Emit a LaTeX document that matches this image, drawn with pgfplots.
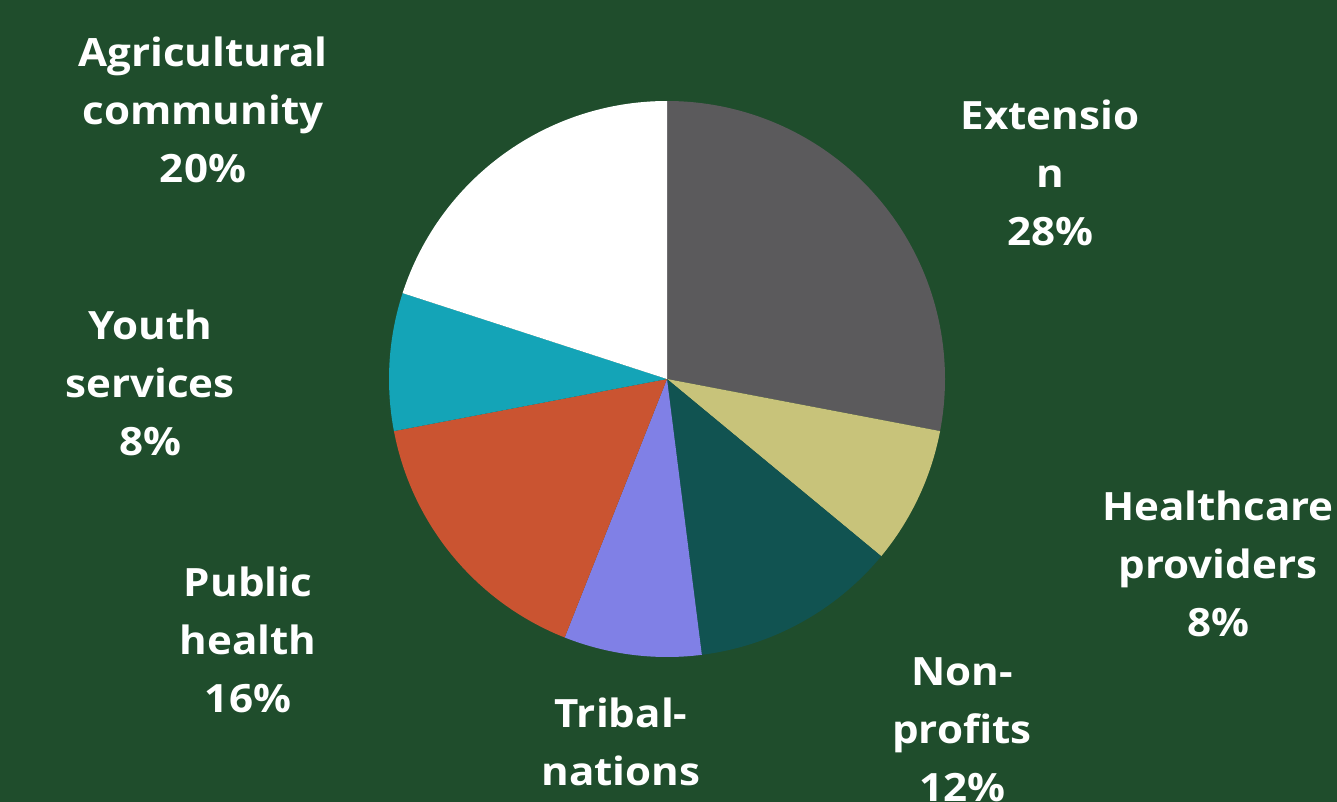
\documentclass[border=0pt]{standalone}
\usepackage{pgfplots}
\pgfplotsset{compat=1.18}
\usepackage{pgfplotstable}
\usepackage{fontspec}
\setmainfont{Open Sans}[FakeStretch=1.08]
\definecolor{bg}{HTML}{1F4D2C}
\definecolor{cExt}{HTML}{5B5A5C}
\definecolor{cHea}{HTML}{C8C37A}
\definecolor{cNon}{HTML}{115351}
\definecolor{cTri}{HTML}{8080E6}
\definecolor{cPub}{HTML}{CA5431}
\definecolor{cYou}{HTML}{14A4B7}
\definecolor{cAgr}{HTML}{FFFFFF}
\pgfplotstableread{
value color
28 cExt
8 cHea
12 cNon
8 cTri
16 cPub
8 cYou
20 cAgr
}\piedata
\newcommand{\lbl}[3]{\node[anchor=base,text=white,font=\fontsize{19.5}{29}\selectfont\bfseries,inner sep=0pt] at (#1,#2) {#3};}
\begin{document}
\begin{tikzpicture}[x=0.5pt,y=-0.5pt]
\fill[bg] (0,0) rectangle (1337,802);
\clip (0,0) rectangle (1337,802);
\begin{axis}[at={(333.5pt,-189.5pt)},anchor=center,scale only axis,width=278pt,height=278pt,
  xmin=-1,xmax=1,ymin=-1,ymax=1,hide axis,clip=false]
\pgfplotstablegetrowsof{\piedata}
\pgfmathtruncatemacro{\nrows}{\pgfplotsretval-1}
\def\startang{90}
\pgfplotsforeachungrouped \i in {0,...,\nrows}{%
  \pgfplotstablegetelem{\i}{value}\of\piedata
  \let\val\pgfplotsretval
  \pgfplotstablegetelem{\i}{color}\of\piedata
  \let\col\pgfplotsretval
  \pgfmathsetmacro{\endang}{\startang-3.6*\val}
  \pgfmathsetmacro{\cx}{cos(\startang)}
  \pgfmathsetmacro{\cy}{sin(\startang)}
  \edef\cmd{\noexpand\fill[\col] (axis cs:0,0) -- (axis cs:\cx,\cy) arc[start angle=\startang,end angle=\endang,radius=139pt] -- cycle;}
  \cmd
  \global\let\startang\endang
}
\end{axis}
\lbl{203}{67}{Agricultural}
\lbl{203}{125}{community}
\lbl{203}{183}{20\%}
\lbl{1050}{130}{Extensio}
\lbl{1050}{188}{n}
\lbl{1050}{246}{28\%}
\lbl{150}{339}{Youth}
\lbl{150}{397}{services}
\lbl{150}{455}{8\%}
\lbl{1218}{520}{Healthcare}
\lbl{1218}{578}{providers}
\lbl{1218}{636}{8\%}
\lbl{248}{596}{Public}
\lbl{248}{654}{health}
\lbl{248}{712}{16\%}
\lbl{962}{685}{Non-}
\lbl{962}{743}{profits}
\lbl{962}{801}{12\%}
\lbl{621}{727}{Tribal-}
\lbl{621}{785}{nations}
\lbl{621}{843}{8\%}
\end{tikzpicture}
\end{document}
